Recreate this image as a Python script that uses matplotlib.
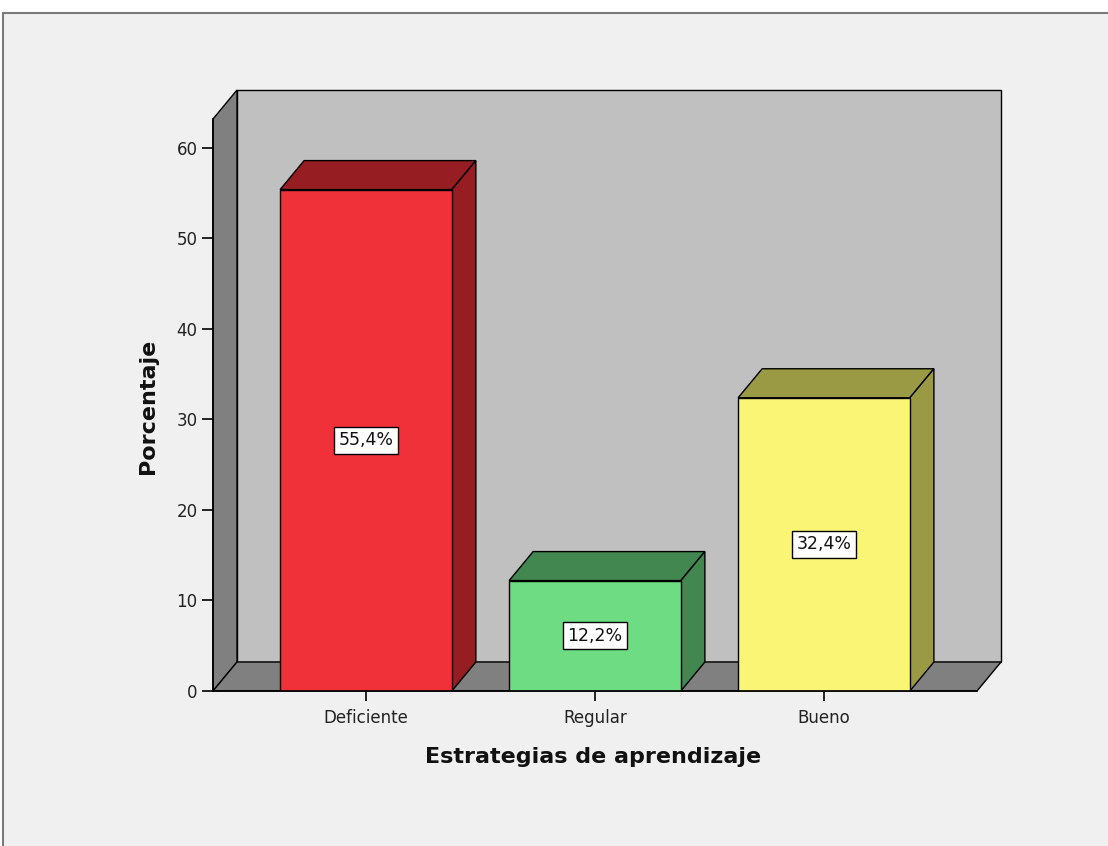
import numpy as np
import matplotlib
matplotlib.use("Agg")
import matplotlib.pyplot as plt
from matplotlib.patches import Polygon, Rectangle

plt.rcParams["font.family"] = ["DejaVu Sans"]

categories = ["Deficiente", "Regular", "Bueno"]
percent = [55.4, 12.2, 32.4]
labels = ["55,4%", "12,2%", "32,4%"]
yticks = [0, 10, 20, 30, 40, 50, 60]

front_cols = ["#f0313a", "#6ddc82", "#faf574"]
dark_cols = ["#961e22", "#41874f", "#9a9a45"]

W, H = 1108, 846
fig = plt.figure(figsize=(W / 100, H / 100), dpi=100, facecolor="white")
# window-like frame
frame = Rectangle((3 / W, -0.05), 1.1, (H - 13) / H + 0.05,
                  transform=fig.transFigure, facecolor="#f0f0f0",
                  edgecolor="#7a7a7a", lw=1.5, zorder=-5)
fig.patches.append(frame)

x0, x1, ytop, ybot = 213, 977, 119, 691
ax = fig.add_axes([x0 / W, (H - ybot) / H, (x1 - x0) / W, (ybot - ytop) / H])
ax.set_zorder(1)
ax.patch.set_visible(False)
xmin, xmax, ymax = -0.668, 2.668, 63.2
ax.set_xlim(xmin, xmax)
ax.set_ylim(0, ymax)

# depth offset in data units (about 24 px right, 29 px up)
dx = 24 / ((x1 - x0) / (xmax - xmin))
dy = 29 / ((ybot - ytop) / ymax)

kw = dict(edgecolor="black", lw=1.0, clip_on=False, joinstyle="miter")
# back wall, side wall, floor
ax.add_patch(Polygon([(xmin + dx, dy), (xmax + dx, dy), (xmax + dx, ymax + dy),
                      (xmin + dx, ymax + dy)], facecolor="#c0c0c0", zorder=0.5, **kw))
ax.add_patch(Polygon([(xmin, 0), (xmin + dx, dy), (xmin + dx, ymax + dy), (xmin, ymax)],
                     facecolor="#808080", zorder=0.6, **kw))
ax.add_patch(Polygon([(xmin, 0), (xmax, 0), (xmax + dx, dy), (xmin + dx, dy)],
                     facecolor="#808080", zorder=0.6, **kw))

xs = np.arange(len(categories))
bw = 0.75
bars = ax.bar(xs, percent, width=bw, color=front_cols, edgecolor="black", lw=1.0, zorder=2)
for b, dc, lab in zip(bars, dark_cols, labels):
    l, r, h = b.get_x(), b.get_x() + b.get_width(), b.get_height()
    ax.add_patch(Polygon([(l, h), (r, h), (r + dx, h + dy), (l + dx, h + dy)],
                         facecolor=dc, zorder=1.9, **kw))
    ax.add_patch(Polygon([(r, 0), (r + dx, dy), (r + dx, h + dy), (r, h)],
                         facecolor=dc, zorder=1.9, **kw))
    ax.text((l + r) / 2, h / 2, lab, ha="center", va="center", fontsize=12.5, zorder=3,
            color="#111111",
            bbox=dict(boxstyle="square,pad=0.25", facecolor="white", edgecolor="black", lw=1.0))

for s in ["top", "right"]:
    ax.spines[s].set_visible(False)
for s in ["left", "bottom"]:
    ax.spines[s].set_linewidth(1.2)
    ax.spines[s].set_zorder(2.5)
ax.set_yticks(yticks)
ax.set_xticks(xs)
ax.set_xticklabels(categories)
ax.tick_params(axis="both", length=8, width=1.2, labelsize=12, colors="black",
               labelcolor="#222222", pad=3)
ax.tick_params(axis="x", length=7, pad=6)

ax.set_ylabel("Porcentaje", fontsize=16, fontweight="bold", color="#111111")
ax.set_xlabel("Estrategias de aprendizaje", fontsize=16, fontweight="bold", color="#111111")
ax.yaxis.set_label_coords((158 - x0) / (x1 - x0), (ybot - 406) / (ybot - ytop))
ax.xaxis.set_label_coords((593 - x0) / (x1 - x0), (ybot - 747) / (ybot - ytop))

fig.savefig("out.png", dpi=100, facecolor="white")
